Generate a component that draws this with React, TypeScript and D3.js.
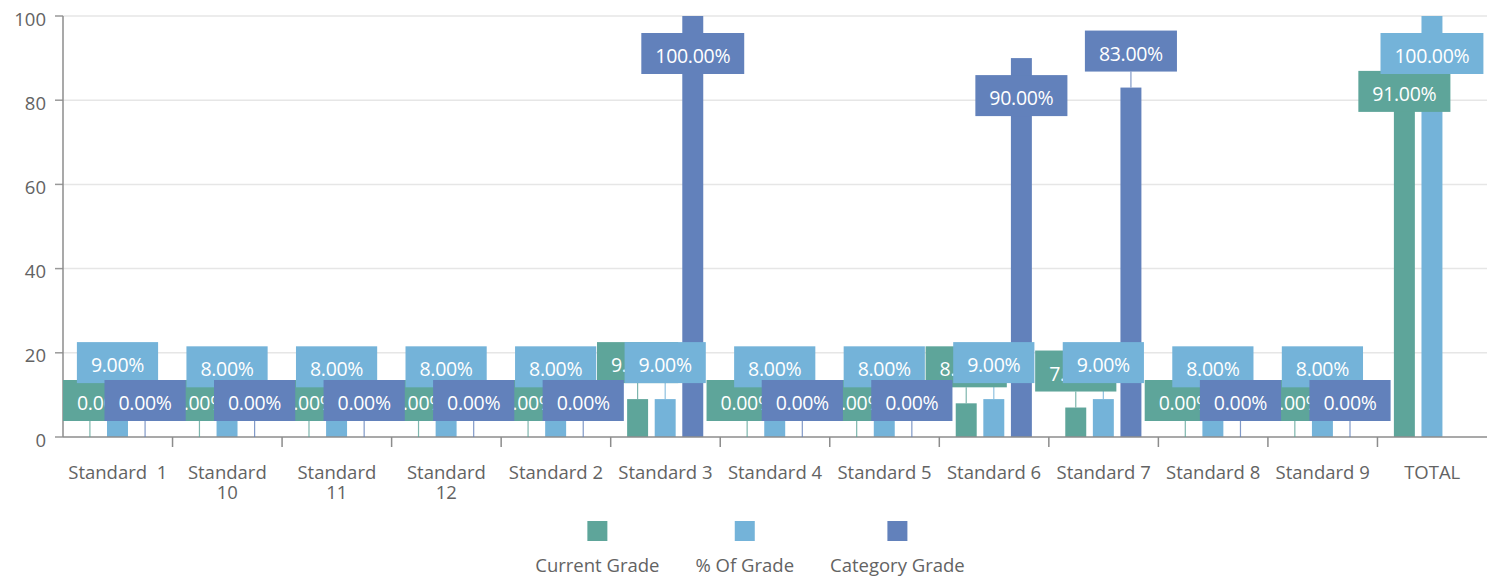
import React, { useEffect, useRef } from "react";
import * as d3 from "d3";

const categoryLabels: string[][] = [
  ["Standard  1"], ["Standard", "10"], ["Standard", "11"], ["Standard", "12"],
  ["Standard 2"], ["Standard 3"], ["Standard 4"], ["Standard 5"], ["Standard 6"],
  ["Standard 7"], ["Standard 8"], ["Standard 9"], ["TOTAL"],
];
const currentGrade: (number | null)[] = [0, 0, 0, 0, 0, 9, 0, 0, 8, 7, 0, 0, 91];
const percentOfGrade: (number | null)[] = [9, 8, 8, 8, 8, 9, 8, 8, 9, 9, 8, 8, 100];
const categoryGrade: (number | null)[] = [0, 0, 0, 0, 0, 100, 0, 0, 90, 83, 0, 0, null];
const seriesNames = ["Current Grade", "% Of Grade", "Category Grade"];
const seriesColors = ["#5ea59a", "#74b3d9", "#6281bb"];
const yTicks = [0, 20, 40, 60, 80, 100];

const W = 1491, H = 580;
const L = 63, R = 1487, T = 16, B = 437;
const FONT = "'Segoe UI', 'Open Sans', sans-serif";
const AXIS_FS = 18.5;

export default function App() {
  const ref = useRef<SVGSVGElement>(null);
  useEffect(() => {
    const svg = d3.select(ref.current!);
    svg.selectAll("*").remove();
    const series = [currentGrade, percentOfGrade, categoryGrade];
    const n = categoryLabels.length;
    const x0 = d3.scaleBand<number>().domain(d3.range(n)).range([L, R]);
    const cw = x0.bandwidth();
    const x1 = d3.scaleBand<number>().domain([0, 1, 2]).range([cw * 0.15, cw * 0.845]).paddingInner(0.24);
    const bw = x1.bandwidth();
    const y = d3.scaleLinear().domain([0, 100]).range([B, T]);

    // grid
    svg.append("g").selectAll("line").data(yTicks.filter(t => t > 0)).join("line")
      .attr("x1", L).attr("x2", R).attr("y1", d => y(d)).attr("y2", d => y(d))
      .attr("stroke", "#e6e6e6").attr("stroke-width", 1.5);
    // y ticks
    svg.append("g").selectAll("line").data(yTicks).join("line")
      .attr("x1", L - 8).attr("x2", L).attr("y1", d => y(d)).attr("y2", d => y(d))
      .attr("stroke", "#999").attr("stroke-width", 1.5);
    svg.append("g").selectAll("text").data(yTicks).join("text")
      .attr("x", L - 17).attr("y", d => y(d) + 2).attr("text-anchor", "end")
      .attr("dominant-baseline", "central").attr("font-family", FONT).attr("font-size", AXIS_FS)
      .attr("fill", "#636363").text(d => String(d));

    // bars
    series.forEach((vals, s) => {
      svg.append("g").selectAll("rect").data(vals.map((v, i) => ({ v, i })).filter(d => d.v !== null && (d.v as number) > 0))
        .join("rect")
        .attr("x", d => x0(d.i)! + x1(s)!).attr("width", bw)
        .attr("y", d => y(d.v as number)).attr("height", d => B - y(d.v as number))
        .attr("fill", seriesColors[s]);
    });

    // axes lines
    svg.append("line").attr("x1", L).attr("x2", L).attr("y1", T).attr("y2", B).attr("stroke", "#8c8c8c").attr("stroke-width", 1.5);
    svg.append("line").attr("x1", L).attr("x2", R).attr("y1", B).attr("y2", B).attr("stroke", "#8c8c8c").attr("stroke-width", 1.5);
    svg.append("g").selectAll("line").data(d3.range(1, n)).join("line")
      .attr("x1", d => x0(d)!).attr("x2", d => x0(d)!).attr("y1", B).attr("y2", B + 10)
      .attr("stroke", "#8c8c8c").attr("stroke-width", 1.5);

    // x labels
    const xl = svg.append("g");
    categoryLabels.forEach((lines, i) => {
      lines.forEach((ln, k) => {
        xl.append("text").attr("x", x0(i)! + cw / 2).attr("y", 471 + k * 20)
          .attr("text-anchor", "middle").attr("dominant-baseline", "central")
          .attr("font-family", FONT).attr("font-size", AXIS_FS).attr("fill", "#636363")
          .style("white-space", "pre").text(ln);
      });
    });

    // data labels
    const connG = svg.append("g");
    const labG = svg.append("g");
    series.forEach((vals, s) => {
      vals.forEach((v, i) => {
        if (v === null) return;
        const barTop = y(v);
        const cx = x0(i)! + x1(s)! + bw / 2;
        const g = labG.append("g");
        const txt = g.append("text").attr("font-family", FONT).attr("font-size", 19.5)
          .attr("fill", "#fff").attr("text-anchor", "middle").attr("dominant-baseline", "central")
          .attr("letter-spacing", -0.3)
          .text(d3.format(".2f")(v) + "%");
        const tw = (txt.node() as SVGTextElement).getComputedTextLength();
        const bwid = tw + 28, bh = 41;
        let top = barTop - 16 - bh;
        let inside = false;
        if (top < T) { top = barTop + 17; inside = true; }
        let bx = cx - bwid / 2;
        bx = Math.max(L, Math.min(R - bwid, bx));
        g.insert("rect", "text").attr("x", bx).attr("y", top).attr("width", bwid).attr("height", bh)
          .attr("fill", seriesColors[s]);
        txt.attr("x", bx + bwid / 2).attr("y", top + bh / 2 + 2);
        if (!inside) {
          connG.append("line").attr("x1", cx).attr("x2", cx).attr("y1", top + bh).attr("y2", barTop)
            .attr("stroke", seriesColors[s]).attr("stroke-width", 1.2).attr("opacity", 0.8);
        }
      });
    });

    // legend
    const lg = svg.append("g");
    const items = seriesNames.map((nm, s) => {
      const t = lg.append("text").attr("font-family", FONT).attr("font-size", AXIS_FS).attr("fill", "#636363")
        .attr("text-anchor", "middle").attr("dominant-baseline", "central").attr("y", 564).text(nm);
      return { t, w: (t.node() as SVGTextElement).getComputedTextLength(), s };
    });
    const gap = 36;
    const total = d3.sum(items, d => d.w) + gap * (items.length - 1);
    let cxl = 750 - total / 2;
    items.forEach(it => {
      const c = cxl + it.w / 2;
      it.t.attr("x", c);
      lg.append("rect").attr("x", c - 10).attr("y", 521).attr("width", 20).attr("height", 20).attr("fill", seriesColors[it.s]);
      cxl += it.w + gap;
    });
  }, []);
  return (
    <svg ref={ref} width={W} height={H} style={{ position: "absolute", left: 0, top: 0, background: "#fff" }} />
  );
}
